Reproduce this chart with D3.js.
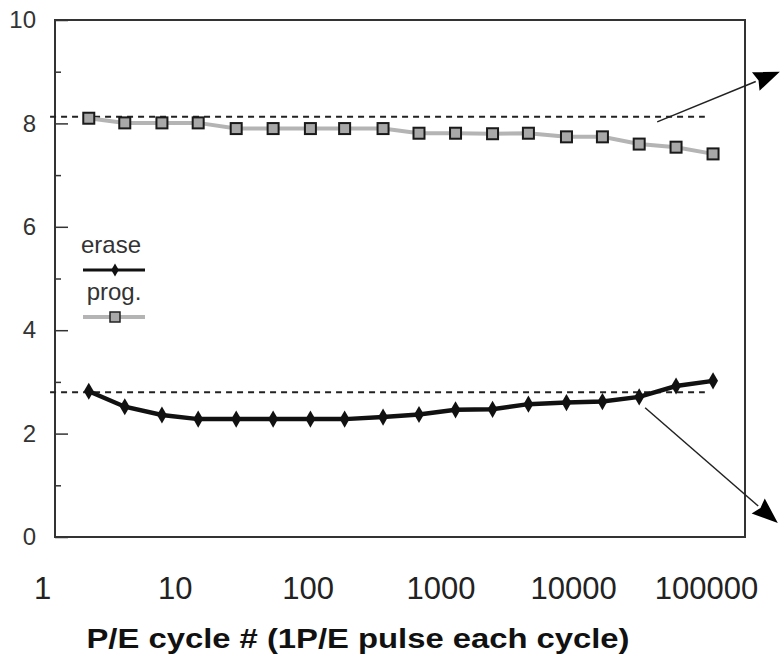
<!DOCTYPE html>
<html lang="en">
<head>
  <meta charset="UTF-8">
  <script src="https://d3js.org/d3.v7.min.js"></script>
  <style>
  body {
    margin:0;
    background-color:#fff;
    font-family: "Liberation Sans", Arial, sans-serif;
  }
  .tick text {
    fill:#333;
  }
  .frame {
    fill:none;
    stroke:#333;
    stroke-width:2px;
  }
  .ref {
    stroke:#222;
    stroke-width:2px;
    stroke-dasharray:6,5;
    fill:none;
  }
  </style>
</head>
<body>
<svg id="chart" width="782" height="664"></svg>
<script>
// P/E cycle number (log axis)
const cycles = [2.25, 4.2, 8, 15, 29, 55, 105, 190, 370, 690, 1300, 2470, 4600, 8900, 16600, 31400, 59500, 113000];
// threshold voltage
const progV  = [8.10, 8.01, 8.01, 8.01, 7.90, 7.90, 7.90, 7.90, 7.90, 7.81, 7.81, 7.80, 7.81, 7.74, 7.74, 7.60, 7.54, 7.41];
const eraseV = [2.82, 2.52, 2.36, 2.28, 2.28, 2.28, 2.28, 2.28, 2.32, 2.37, 2.46, 2.47, 2.57, 2.60, 2.62, 2.71, 2.92, 3.02];

const xTicks = [1, 10, 100, 1000, 10000, 100000];
const yMajor = [0, 2, 4, 6, 8, 10];
const yMinor = [1, 3, 5, 7, 9];

// dashed reference levels
const refLevels = [8.13, 2.80];
const refSpan = [1.15, 98000];

// annotation arrows, [start, tip] in data units
const arrows = [
  [[42900, 8.03], [359700, 9.0]],
  [[34800, 2.50], [347400, 0.27]]
];

let svg = d3.select("#chart");

let x = d3.scaleLog().domain([1, 100000]).range([42, 706]);
let y = d3.scaleLinear().domain([0, 10]).range([537, 20]);

let frameL = 55, frameR = 745;

// frame
svg.append("rect")
  .attr("class", "frame")
  .attr("x", frameL).attr("y", y(10))
  .attr("width", frameR - frameL)
  .attr("height", y(0) - y(10));

// y axis, ticks pointing inward
let yAxis = svg.append("g")
  .attr("transform", "translate(" + frameL + ",0)")
  .call(d3.axisLeft(y).tickValues(yMajor).tickSize(-13).tickPadding(19).tickFormat(d3.format("d")));
yAxis.select(".domain").remove();
yAxis.selectAll("line").style("stroke", "#333").style("stroke-width", 1.5);
yAxis.selectAll("text").style("font-size", "24px");

let yMinorAxis = svg.append("g")
  .attr("transform", "translate(" + frameL + ",0)")
  .call(d3.axisLeft(y).tickValues(yMinor).tickSize(-6).tickFormat(""));
yMinorAxis.select(".domain").remove();
yMinorAxis.selectAll("line").style("stroke", "#333").style("stroke-width", 1.5);

// x axis labels only
let xAxis = svg.append("g")
  .attr("transform", "translate(0," + y(0) + ")")
  .call(d3.axisBottom(x).tickValues(xTicks).tickSize(0).tickPadding(40).tickFormat(d3.format("d")));
xAxis.select(".domain").remove();
xAxis.selectAll("text").style("font-size", "31px").style("fill", "#222");

// dashed reference lines
svg.selectAll(".ref").data(refLevels)
  .enter().append("line")
  .attr("class", "ref")
  .attr("x1", x(refSpan[0])).attr("x2", x(refSpan[1]))
  .attr("y1", d => y(d)).attr("y2", d => y(d));

// prog series
let progData = cycles.map((c, i) => [c, progV[i]]);
let eraseData = cycles.map((c, i) => [c, eraseV[i]]);
let line = d3.line().x(d => x(d[0])).y(d => y(d[1]));

svg.append("path").datum(progData)
  .attr("d", line)
  .style("fill", "none").style("stroke", "#b4b4b4").style("stroke-width", 4);

svg.selectAll(".sq").data(progData)
  .enter().append("rect")
  .attr("class", "sq")
  .attr("x", d => x(d[0]) - 5.5).attr("y", d => y(d[1]) - 5.5)
  .attr("width", 11).attr("height", 11)
  .style("fill", "#a8a8a8").style("stroke", "#1a1a1a").style("stroke-width", 2);

// erase series
svg.append("path").datum(eraseData)
  .attr("d", line)
  .style("fill", "none").style("stroke", "#111").style("stroke-width", 4.5);

let diamond = d3.symbol().type(d3.symbolDiamond).size(85);
svg.selectAll(".dm").data(eraseData)
  .enter().append("path")
  .attr("class", "dm")
  .attr("transform", d => "translate(" + x(d[0]) + "," + y(d[1]) + ")")
  .attr("d", diamond)
  .style("fill", "#111");

// annotation arrows: thin shaft + filled head
let headLen = 26, headHalf = 10;
arrows.forEach(function(a) {
  let x1 = x(a[0][0]), y1 = y(a[0][1]);
  let x2 = x(a[1][0]), y2 = y(a[1][1]);
  let ang = Math.atan2(y2 - y1, x2 - x1);
  let bx = x2 - headLen * Math.cos(ang), by = y2 - headLen * Math.sin(ang);
  svg.append("line")
    .attr("x1", x1).attr("y1", y1)
    .attr("x2", bx).attr("y2", by)
    .style("stroke", "#222").style("stroke-width", 1.5);
  let px = -Math.sin(ang) * headHalf, py = Math.cos(ang) * headHalf;
  let nx = x2 - (headLen - 3) * Math.cos(ang), ny = y2 - (headLen - 3) * Math.sin(ang);
  svg.append("path")
    .attr("d", "M" + x2 + "," + y2 + "L" + (bx + px) + "," + (by + py) +
      "L" + nx + "," + ny + "L" + (bx - px) + "," + (by - py) + "Z")
    .style("fill", "#000");
});

// legend
let legend = svg.append("g").attr("transform", "translate(83,0)");
legend.append("text").attr("x", 28).attr("y", 253)
  .attr("text-anchor", "middle").style("font-size", "24px").style("fill", "#333").text("erase");
legend.append("line").attr("x1", 0).attr("x2", 62).attr("y1", 270).attr("y2", 270)
  .style("stroke", "#111").style("stroke-width", 3);
legend.append("path").attr("transform", "translate(32,270)")
  .attr("d", d3.symbol().type(d3.symbolDiamond).size(50)).style("fill", "#111");
legend.append("text").attr("x", 31).attr("y", 300)
  .attr("text-anchor", "middle").style("font-size", "24px").style("fill", "#333").text("prog.");
legend.append("line").attr("x1", 0).attr("x2", 62).attr("y1", 317).attr("y2", 317)
  .style("stroke", "#b4b4b4").style("stroke-width", 4);
legend.append("rect").attr("x", 27).attr("y", 312).attr("width", 10).attr("height", 10)
  .style("fill", "#a8a8a8").style("stroke", "#222").style("stroke-width", 1.5);

// axis title
svg.append("text")
  .attr("x", 358).attr("y", 648)
  .attr("text-anchor", "middle")
  .attr("textLength", 543).attr("lengthAdjust", "spacingAndGlyphs")
  .style("font-size", "28px").style("font-weight", "bold").style("fill", "#111")
  .text("P/E cycle # (1P/E pulse each cycle)");
</script>
</body>
</html>
